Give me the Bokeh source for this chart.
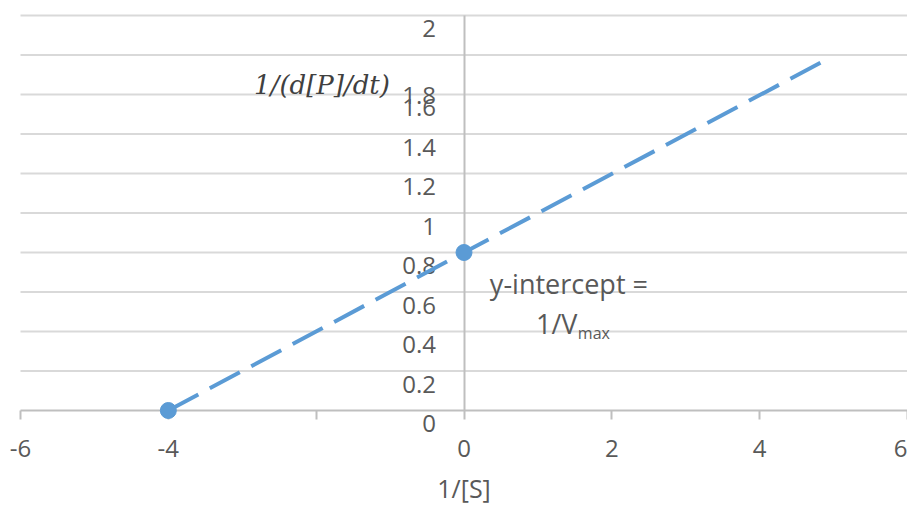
from bokeh.plotting import figure
from bokeh.models import ColumnDataSource, Label, LinearAxis, FixedTicker, Range1d
from bokeh.embed import file_html
from bokeh.resources import INLINE
from bokeh.core.properties import value

# ---- data ----
line_x = [-4, 0, 4.92]
line_y = [0.0, 0.8, 1.78]
marker_x = [-4, 0]
marker_y = [0.0, 0.8]
x_ticks = [-6, -4, -2, 0, 2, 4, 6]
x_tick_labels = ["-6", "-4", "-2", "0", "2", "4", "6"]
y_ticks = [0, 0.2, 0.4, 0.6, 0.8, 1.0, 1.2, 1.4, 1.6, 1.8, 2.0]
y_tick_labels = ["0", "0.2", "0.4", "0.6", "0.8", "1", "1.2", "1.4", "1.6", "1.8", "2"]
x_title = "1/[S]"
y_title = "1/(d[P]/dt)"
note_line1 = "y-intercept ="
note_line2 = "1/V"
note_sub = "max"

# ---- styles / layout ----
LABEL_SHIFT = [0, 0, 0, 0, 0, 0, 0, 0, 0, 27, 0]  # px, the 1.8 label is pushed down
HIDDEN_X_LABELS = {-2}                             # covered by the axis title box
BLUE = "#5B9BD5"
GRID = "#D9D9D9"
AXIS = "#BFBFBF"
TXT = "#595959"
FONT = "Open Sans"

W, H = 907, 505
PX_X = 887 / 12.0
PX_Y = 395 / 2.0
x_range = Range1d(-6 - 20 / PX_X, 6)
y_range = Range1d(0 - (H - 410) / PX_Y, 2 + 15 / PX_Y)

p = figure(width=W, height=H, x_range=x_range, y_range=y_range,
           output_backend="svg", toolbar_location=None, min_border=0,
           x_axis_location=None, y_axis_location=None)
p.grid.visible = False
p.outline_line_color = None
p.background_fill_color = "white"
p.border_fill_color = "white"

# gridlines
gy = y_ticks[1:]
p.segment(x0=[x_ticks[0]] * len(gy), x1=[x_ticks[-1]] * len(gy), y0=gy, y1=gy,
          line_color=GRID, line_width=2)

# axes
overrides = {t: ("" if t in HIDDEN_X_LABELS else s) for t, s in zip(x_ticks, x_tick_labels)}
xaxis = LinearAxis(fixed_location=0, ticker=FixedTicker(ticks=x_ticks),
                   bounds=(x_ticks[0], x_ticks[-1]),
                   axis_line_color=AXIS, axis_line_width=2,
                   major_tick_line_color=AXIS, major_tick_line_width=2,
                   major_tick_in=0, major_tick_out=9,
                   minor_tick_line_color=None,
                   major_label_text_font=FONT, major_label_text_font_size="24px",
                   major_label_text_color=TXT, major_label_standoff=20,
                   major_label_overrides=overrides)
p.add_layout(xaxis, "below")

yaxis = LinearAxis(fixed_location=0, ticker=FixedTicker(ticks=[]),
                   bounds=(y_ticks[0], y_ticks[-1]),
                   axis_line_color=AXIS, axis_line_width=2,
                   major_tick_line_color=None, minor_tick_line_color=None)
p.add_layout(yaxis, "left")

# y tick labels (drawn left of the y axis, below their gridline)
ysrc = ColumnDataSource(dict(x=[0] * len(y_ticks), y=y_ticks, t=y_tick_labels,
                             dy=[13 + s for s in LABEL_SHIFT]))
p.text(x="x", y="y", text="t", source=ysrc, x_offset=-28, y_offset="dy",
       text_align="right", text_baseline="middle",
       text_font=value(FONT), text_font_size="24px", text_color=TXT)

# series
ln = p.line(line_x, line_y, line_color=BLUE, line_width=4, line_dash="34 13")
ln.level = "annotation"
sc = p.scatter(marker_x, marker_y, size=16, fill_color=BLUE, line_color=BLUE)
sc.level = "annotation"

# texts
p.add_layout(Label(x=0, y=-0.39, text=x_title, text_align="center",
                   text_baseline="middle", text_font=FONT,
                   text_font_size="25px", text_color=TXT))
p.add_layout(Label(x=-2.84, y=1.65, text=y_title, text_align="left",
                   text_baseline="middle", text_font="DejaVu Serif",
                   text_font_style="italic", text_font_size="26px",
                   text_color="#404040"))
p.add_layout(Label(x=0.35, y=0.643, text=note_line1, text_align="left",
                   text_baseline="middle", text_font=FONT,
                   text_font_size="27px", text_color=TXT))
p.add_layout(Label(x=0.974, y=0.438, text=note_line2, text_align="left",
                   text_baseline="middle", text_font=FONT,
                   text_font_size="27px", text_color=TXT))
p.add_layout(Label(x=1.54, y=0.392, text=note_sub, text_align="left",
                   text_baseline="middle", text_font=FONT,
                   text_font_size="16px", text_color=TXT))

open("out.html", "w").write(file_html(p, INLINE))
